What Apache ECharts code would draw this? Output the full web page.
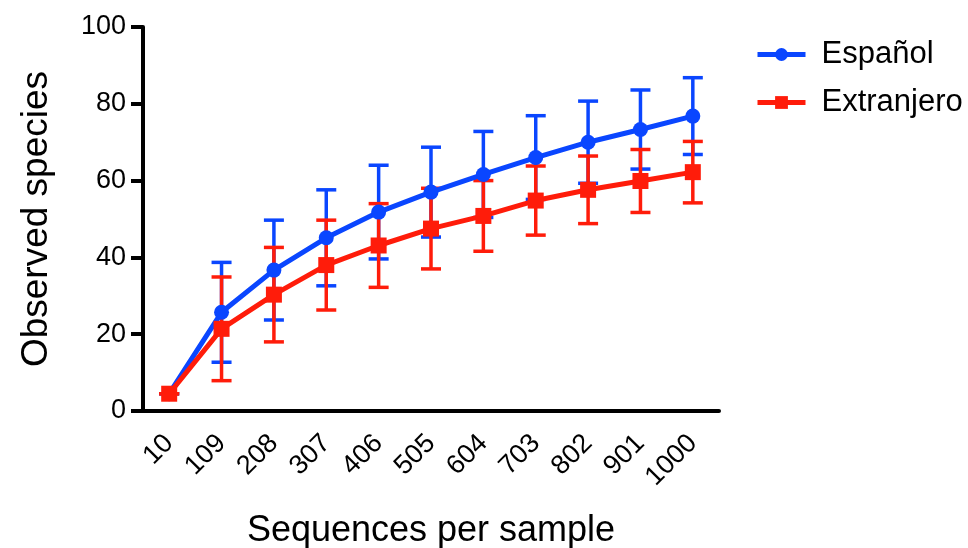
<!DOCTYPE html>
<html>
<head>
<meta charset="utf-8">
<script src="https://cdn.jsdelivr.net/npm/echarts@6/dist/echarts.min.js"></script>
<style>
  html, body { margin: 0; padding: 0; background: #fff; }
  #chart { width: 968px; height: 548px; }
</style>
</head>
<body>
<div id="chart"></div>
<script>
// rarefaction data
var categories = ["10", "109", "208", "307", "406", "505", "604", "703", "802", "901", "1000"];
var espanolMean = [4.5, 25.7, 36.7, 45.1, 51.8, 57.0, 61.6, 66.0, 70.0, 73.3, 76.8];
var espanolErr = [0, 13.0, 13.0, 12.5, 12.2, 11.7, 11.2, 10.9, 10.7, 10.3, 10.0];
var extranjeroMean = [4.5, 21.4, 30.3, 38.0, 43.1, 47.5, 50.8, 54.8, 57.6, 59.9, 62.2];
var extranjeroErr = [0, 13.5, 12.3, 11.7, 10.9, 10.5, 9.2, 9.0, 8.8, 8.2, 8.0];
var yTicks = [0, 20, 40, 60, 80, 100];

var blue = "#0a46ff";
var red = "#ff1c0a";
var font = "Liberation Sans, Arial, Helvetica, sans-serif";

function errData(mean, err) {
  return mean.map(function (m, i) {
    return [i, m - err[i], m + err[i]];
  });
}

function errSeries(mean, err, color) {
  return {
    type: "custom",
    data: errData(mean, err),
    encode: { x: 0, y: [1, 2] },
    silent: true,
    renderItem: function (params, api) {
      var lo = api.coord([api.value(0), api.value(1)]);
      var hi = api.coord([api.value(0), api.value(2)]);
      var cap = 10;
      var st = { stroke: color, lineWidth: 3.5 };
      return {
        type: "group",
        children: [
          { type: "line", shape: { x1: lo[0], y1: lo[1], x2: hi[0], y2: hi[1] }, style: st },
          { type: "line", shape: { x1: lo[0] - cap, y1: lo[1], x2: lo[0] + cap, y2: lo[1] }, style: st },
          { type: "line", shape: { x1: hi[0] - cap, y1: hi[1], x2: hi[0] + cap, y2: hi[1] }, style: st }
        ]
      };
    }
  };
}

var myChart = echarts.init(document.getElementById("chart"));
var option = {
  animation: false,
  textStyle: { fontFamily: font },
  grid: {
    left: 143,
    right: 249,
    top: 27,
    bottom: 137,
    outerBoundsMode: "none"
  },
  legend: {
    orient: "vertical",
    left: 750,
    top: 34,
    itemWidth: 48,
    itemHeight: 16,
    itemGap: 17,
    lineStyle: { width: 5 },
    textStyle: { fontSize: 31, color: "#000", fontFamily: font, padding: [0, 0, 0, 11] },
    data: ["Español", "Extranjero"]
  },
  xAxis: {
    type: "category",
    data: categories,
    boundaryGap: true,
    name: "Sequences per sample",
    nameLocation: "middle",
    nameGap: 102,
    nameTextStyle: { fontSize: 36, color: "#000", fontFamily: font },
    axisLine: { lineStyle: { color: "#000", width: 4 } },
    axisTick: { alignWithLabel: true, length: 13, lineStyle: { color: "#000", width: 4, cap: "round" } },
    axisLabel: { rotate: 45, fontSize: 27, color: "#000", margin: 28 },
    splitLine: { show: false }
  },
  yAxis: {
    type: "value",
    min: yTicks[0],
    max: yTicks[yTicks.length - 1],
    interval: 20,
    name: "Observed species",
    nameLocation: "middle",
    nameGap: 88,
    nameTextStyle: { fontSize: 37, color: "#000", fontFamily: font },
    axisLine: { show: true, lineStyle: { color: "#000", width: 4 } },
    axisTick: { show: true, length: 12, lineStyle: { color: "#000", width: 4 } },
    axisLabel: { fontSize: 27, color: "#000", margin: 17 },
    splitLine: { show: false }
  },
  series: [
    errSeries(espanolMean, espanolErr, blue),
    {
      name: "Español",
      type: "line",
      data: espanolMean,
      symbol: "circle",
      symbolSize: 15,
      itemStyle: { color: blue },
      lineStyle: { color: blue, width: 5 }
    },
    errSeries(extranjeroMean, extranjeroErr, red),
    {
      name: "Extranjero",
      type: "line",
      data: extranjeroMean,
      symbol: "rect",
      symbolSize: 16,
      itemStyle: { color: red },
      lineStyle: { color: red, width: 5 }
    }
  ]
};
option && myChart.setOption(option);
</script>
</body>
</html>
